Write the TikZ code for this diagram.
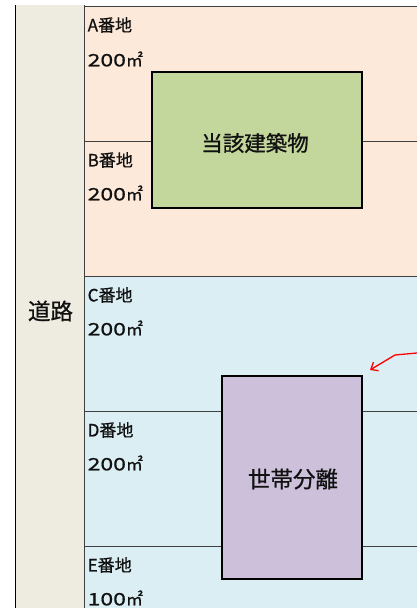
\documentclass[tikz,border=0pt]{standalone}
\usepackage{fontspec}
\setmainfont{Noto Sans CJK JP}[FakeBold=0.8]
\usetikzlibrary{arrows.meta}
\definecolor{roadc}{HTML}{EEECE1}
\definecolor{peach}{HTML}{FDE9D9}
\definecolor{skyc}{HTML}{DAEEF3}
\definecolor{greenb}{HTML}{C3D69B}
\definecolor{purpb}{HTML}{CCC0DA}
\definecolor{linec}{HTML}{3F3F3F}
\definecolor{txt}{HTML}{111111}
\newcommand{\widedig}[1]{{\addfontfeature{FakeStretch=1.35}#1}}
\tikzset{
  lotline/.style={draw=linec, line width=0.9pt},
  lotlabel/.style={anchor=west, inner sep=0pt, text=txt, font=\fontsize{17}{19}\selectfont},
  building/.style={draw=black, line width=2.4pt, inner sep=0pt, text=txt},
  roadlabel/.style={inner sep=0pt, text=txt, font=\fontsize{22.5}{24}\selectfont},
  note/.style={draw=red, line width=1.3pt, -{Straight Barb[length=6pt,width=10pt,line width=1.3pt]}}
}
\begin{document}
\begin{tikzpicture}[x=1pt,y=-1pt]
\useasboundingbox (0,0) rectangle (417,608);
% road
\fill[roadc] (15,5) rectangle (84,608);
% lots
\fill[peach] (84,6) rectangle (417,276);
\fill[skyc] (84,276) rectangle (417,608);
\draw[black, line width=0.9pt] (15,5) -- (15,608);
\draw[lotline] (84,5) -- (84,608);
\draw[lotline] (84,6) -- (417,6);
\draw[lotline] (84,141) -- (417,141);
\draw[lotline] (84,276) -- (417,276);
\draw[lotline] (84,411) -- (417,411);
\draw[lotline] (84,546) -- (417,546);
% labels
\node[roadlabel] (road) at (50.5,311) {道路};
\node[lotlabel] (la) at (87.5,25) {A番地};
\node[lotlabel] (aa) at (87.5,59) {\widedig{200}㎡};
\node[lotlabel] (lb) at (87.5,160) {B番地};
\node[lotlabel] (ab) at (87.5,193) {\widedig{200}㎡};
\node[lotlabel] (lc) at (87.5,295) {C番地};
\node[lotlabel] (ac) at (87.5,328) {\widedig{200}㎡};
\node[lotlabel] (ld) at (87.5,430) {D番地};
\node[lotlabel] (ad) at (87.5,463) {\widedig{200}㎡};
\node[lotlabel] (le) at (87.5,565) {E番地};
\node[lotlabel] (ae) at (87.5,598) {\widedig{100}㎡};
% buildings
\node[building, fill=greenb, minimum width=210pt, minimum height=136pt] (main) at (257,140) {};
\node[inner sep=0pt, text=txt, font=\fontsize{21.5}{23}\selectfont] (maintext) at (255,143) {当該建築物};
\node[building, fill=purpb, minimum width=140pt, minimum height=203pt] (sep) at (292,477.5) {};
\node[inner sep=0pt, text=txt, font=\fontsize{22.5}{24}\selectfont] (septext) at (293,479) {世帯分離};
% arrow
\coordinate (a0) at (417,353);
\coordinate (a1) at (395,355);
\coordinate (a2) at (370,370);
\draw[note] (a0) -- (a1) -- (a2);
\end{tikzpicture}
\end{document}
